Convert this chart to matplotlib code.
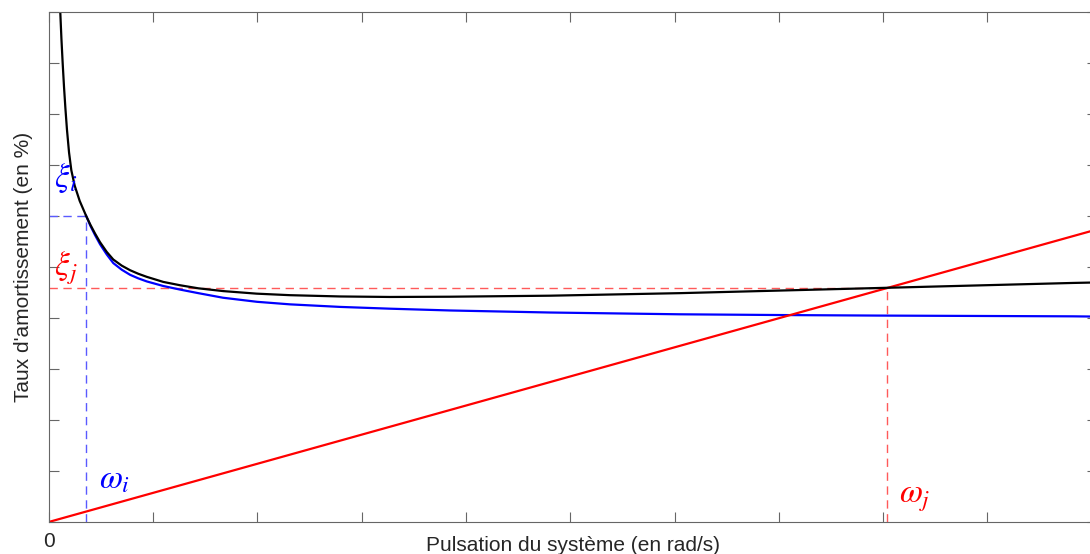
import matplotlib
matplotlib.use("Agg")
import matplotlib.pyplot as plt

# ---- data (x: pulsation, y: damping %) ----
black_x = [0.111, 0.122, 0.134, 0.147, 0.160, 0.175, 0.195, 0.217, 0.249, 0.297,
           0.358, 0.400, 0.444, 0.492, 0.556, 0.619, 0.700, 0.780, 0.859, 0.940,
           1.099, 1.259, 1.434, 1.674, 1.994, 2.314, 2.793, 3.272, 3.848, 4.806,
           6.053, 7.939, 9.818, 10.05]
black_y = [10.0, 9.48, 9.00, 8.53, 8.12, 7.70, 7.25, 6.90, 6.60, 6.30,
           6.01, 5.83, 5.66, 5.49, 5.30, 5.15, 5.03, 4.94, 4.87, 4.81,
           4.71, 4.645, 4.585, 4.53, 4.48, 4.45, 4.425, 4.415, 4.42, 4.44,
           4.49, 4.59, 4.69, 4.70]

blue_x = [0.358, 0.400, 0.444, 0.492, 0.556, 0.619, 0.700, 0.780, 0.859, 0.940,
          1.099, 1.259, 1.434, 1.671, 1.997, 2.314, 2.793, 3.272, 3.848, 4.806,
          6.053, 7.041, 7.940, 9.821, 10.05]
blue_y = [6.01, 5.81, 5.63, 5.45, 5.25, 5.08, 4.95, 4.85, 4.78, 4.72,
          4.63, 4.56, 4.49, 4.40, 4.32, 4.27, 4.22, 4.185, 4.15, 4.11,
          4.075, 4.06, 4.05, 4.035, 4.03]

red_x = [0.0, 10.05]
red_y = [0.0, 5.74]

omega_i, xi_i = 0.358, 6.01
omega_j, xi_j = 8.04, 4.59

x_ticks = list(range(0, 11))
x_tick_labels = ["0"] + [""] * 10
y_ticks = list(range(0, 11))

xlabel = "Pulsation du système (en rad/s)"
ylabel = "Taux d'amortissement (en %)"

plt.rcParams['font.family'] = ['Liberation Sans', 'DejaVu Sans']
plt.rcParams['mathtext.fontset'] = 'stix'

fig = plt.figure(figsize=(10.9, 5.54), dpi=100)
W, H = 1090, 554
left, right, top, bottom = 48.7, 1097, 12.3, 522
ax = fig.add_axes([left / W, 1 - bottom / H, (right - left) / W, (bottom - top) / H])

# dashed guides
ax.plot([omega_i, omega_i], [0, xi_i], color='#5a5aff', lw=1.0, ls=(0, (6, 4)))
ax.plot([0, omega_i], [xi_i, xi_i], color='#5a5aff', lw=1.0, ls=(0, (6, 4)))
ax.plot([0, omega_j], [xi_j, xi_j], color='#ff5a5a', lw=1.0, ls=(0, (6, 4)))
ax.plot([omega_j, omega_j], [0, xi_j], color='#ff5a5a', lw=1.0, ls=(0, (6, 4)))

ax.plot(blue_x, blue_y, color='#0000ff', lw=1.6, solid_joinstyle='round')
ax.plot(red_x, red_y, color='#ff0000', lw=1.6)
ax.plot(black_x, black_y, color='black', lw=1.6, solid_joinstyle='round')

ax.set_xlim(0, 10.05)
ax.set_ylim(0, 10)
ax.set_xticks(x_ticks)
ax.set_xticklabels(x_tick_labels)
ax.set_yticks(y_ticks)
ax.set_yticklabels([])
ax.tick_params(direction='in', length=7, width=0.8, color='#666666',
               top=True, right=True, labelsize=15, labelcolor='#262626', pad=7)
for s in ax.spines.values():
    s.set_color('#666666')
    s.set_linewidth(0.8)

ax.set_xlabel(xlabel, fontsize=15, color='#262626')
ax.set_ylabel(ylabel, fontsize=15, color='#262626')
ax.xaxis.set_label_coords(0.5, -0.028)
ax.yaxis.set_label_coords(-0.015, 0.5)

ax.text(0.05, 6.57, r'$\xi_i$', color='#0000ff', fontsize=24, va='baseline', ha='left')
ax.text(0.05, 4.84, r'$\xi_j$', color='#ff0000', fontsize=24, va='baseline', ha='left')
ax.text(0.48, 0.667, r'$\omega_i$', color='#0000ff', fontsize=24, va='baseline', ha='left')
ax.text(8.15, 0.373, r'$\omega_j$', color='#ff0000', fontsize=24, va='baseline', ha='left')

fig.savefig('out.png', dpi=100)
